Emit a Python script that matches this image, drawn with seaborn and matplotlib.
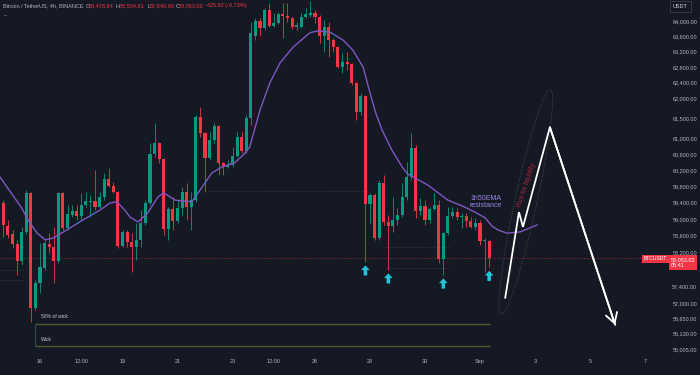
import numpy as np
import pandas as pd
import matplotlib
matplotlib.use('Agg')
import matplotlib.pyplot as plt
import matplotlib.dates as mdates
from matplotlib.patches import Ellipse
from matplotlib.path import Path
from matplotlib.markers import MarkerStyle
from matplotlib.transforms import IdentityTransform, blended_transform_factory
from matplotlib.ticker import FixedLocator, FixedFormatter, NullLocator
import seaborn as sns

BG = '#151924'
UP = '#089981'
DOWN = '#f23645'
TXT = '#b2b5be'

sns.set_theme(style='dark', rc={'axes.facecolor': BG, 'figure.facecolor': BG})
plt.rcParams['font.family'] = ['Liberation Sans', 'DejaVu Sans']

# 4h candles BTCUSDT, first bar 2024-08-14 16:00
first_bar = '2024-08-14 16:00'
opens = [59390, 58830, 58640, 58400, 57990, 58690, 59640, 56890, 57470, 57830,
         58400, 58330, 57990, 59640, 58790, 59100, 59200, 59080, 59340, 59420,
         59440, 59290, 59540, 59980, 59810, 59660, 58350, 58690, 58450, 58330,
         58500, 58910, 59390, 60600, 60870, 60470, 58760, 59250, 58950, 59270,
         59660, 59290, 59460, 61530, 61120, 60500, 60950, 61300, 60380, 60280,
         60330, 60550, 61020, 60670, 61500, 63610, 64000, 63820, 64290, 63870,
         63950, 64190, 64130, 64080, 63840, 63840, 64110, 64160, 64210, 64110,
         63610, 63840, 63500, 63320, 62800, 62930, 62880, 62390, 61650, 62060,
         59370, 59590, 58540, 59880, 58930, 58830, 58980, 59100, 59540, 60030,
         60750, 59200, 59320, 58980, 59250, 59340, 58040, 58660, 59080, 59170,
         59050, 59080, 58950, 58810, 58910, 58470, 58478.64]
highs = [59460, 58980, 58740, 58500, 58810, 59710, 59660, 57540, 58420, 58500,
         58660, 58810, 59660, 59660, 59340, 59340, 59340, 59640, 59660, 59590,
         60200, 59660, 60130, 60250, 59910, 59690, 58740, 58740, 58660, 58910,
         59220, 59460, 60870, 61370, 60900, 60500, 59290, 59540, 59460, 59780,
         59880, 59660, 61580, 61780, 61150, 61150, 61370, 61320, 60400, 60450,
         60770, 61150, 61150, 61580, 63970, 64080, 64080, 64340, 64480, 64210,
         64240, 64480, 64480, 64110, 63970, 64210, 64340, 64530, 64290, 64160,
         64030, 63970, 63560, 63350, 63160, 63190, 62910, 62420, 62140, 62090,
         59640, 59640, 59960, 60080, 59100, 59540, 59270, 59880, 60400, 61120,
         60820, 59510, 59460, 59290, 59640, 59460, 58690, 59290, 59290, 59270,
         59150, 59150, 59050, 59030, 58980, 58540, 58504.81]
lows = [58570, 58540, 58300, 57660, 57900, 58640, 56560, 56840, 57240, 57780,
        58180, 57470, 57950, 58740, 58740, 59050, 58980, 58980, 59290, 59050,
        59220, 59270, 59460, 59780, 59640, 58300, 58330, 58330, 57730, 58020,
        58330, 58860, 59340, 60520, 60380, 58620, 58500, 58740, 58910, 59100,
        58980, 58740, 59420, 61020, 59660, 60450, 60870, 60080, 60080, 60250,
        60280, 60520, 60620, 60620, 61320, 63500, 63610, 63760, 63840, 63840,
        63920, 63560, 63970, 63790, 63760, 63820, 64080, 64110, 63950, 63430,
        63190, 63060, 63190, 62780, 62650, 62730, 62340, 61450, 61580, 57970,
        58910, 58500, 58500, 58860, 57780, 58690, 58860, 59050, 59460, 59960,
        59030, 59100, 58860, 58910, 59220, 57950, 57660, 58620, 59030, 58980,
        58790, 58810, 58790, 58740, 58380, 57730, 57840.00]
closes = [58860, 58620, 58400, 57990, 58690, 59640, 56890, 57470, 57850, 58420,
          58330, 57990, 59640, 58790, 59120, 59200, 59080, 59340, 59440, 59440,
          59290, 59540, 59980, 59810, 59660, 58350, 58690, 58450, 58330, 58500,
          58910, 59390, 60600, 60870, 60470, 58760, 59250, 58950, 59270, 59660,
          59290, 59460, 61530, 61120, 60500, 60950, 61300, 60380, 60280, 60330,
          60550, 61020, 60670, 61500, 63690, 64000, 63820, 64290, 63870, 63950,
          64190, 64130, 64080, 63840, 63900, 64110, 64190, 64210, 64110, 63610,
          63840, 63500, 63320, 62800, 62930, 62880, 62390, 61650, 62060, 59370,
          59590, 58540, 59880, 58930, 58830, 58980, 59100, 59540, 60030, 60750,
          59200, 59320, 58980, 59250, 59340, 58040, 58660, 59080, 59170, 59050,
          59080, 58950, 58810, 58910, 58470, 58478.64, 58053.02]

# 1h 50 EMA as drawn (last part is the hand-drawn extension)
ema_times = ['2024-08-14 13:00', '2024-08-15 08:00', '2024-08-15 13:30', '2024-08-15 21:30',
             '2024-08-16 04:30', '2024-08-16 11:30', '2024-08-16 23:30', '2024-08-17 13:30',
             '2024-08-18 04:30', '2024-08-18 13:00', '2024-08-18 19:00', '2024-08-19 02:00',
             '2024-08-19 06:30', '2024-08-19 13:30', '2024-08-19 22:00', '2024-08-20 07:00',
             '2024-08-20 12:00', '2024-08-20 22:00', '2024-08-21 12:30', '2024-08-21 21:30',
             '2024-08-22 06:00', '2024-08-22 15:00', '2024-08-23 02:00', '2024-08-23 11:00',
             '2024-08-23 15:00', '2024-08-24 00:00', '2024-08-24 08:30', '2024-08-24 17:30',
             '2024-08-25 05:00', '2024-08-25 19:30', '2024-08-26 02:00', '2024-08-26 13:00',
             '2024-08-27 00:30', '2024-08-27 09:00', '2024-08-27 18:00', '2024-08-28 00:00',
             '2024-08-28 05:00', '2024-08-28 10:30', '2024-08-28 19:00', '2024-08-29 04:00',
             '2024-08-29 09:00', '2024-08-29 18:00', '2024-08-30 02:30', '2024-08-30 11:30',
             '2024-08-30 20:00', '2024-08-31 08:30', '2024-08-31 19:30', '2024-09-01 04:30',
             '2024-09-01 10:30', '2024-09-01 15:30', '2024-09-01 23:30', '2024-09-02 11:00',
             '2024-09-03 02:00']
ema_vals = [60030, 59270, 58980, 58660, 58500, 58540, 58740, 58980, 59220, 59390,
            59420, 59220, 59050, 58930, 59150, 59540, 59640, 59460, 59420, 59780,
            60130, 60280, 60380, 60620, 60770, 61700, 62390, 62910, 63320, 63690,
            63740, 63710, 63500, 63240, 62800, 62140, 61630, 61200, 60700, 60280,
            60100, 59960, 59830, 59640, 59460, 59320, 59170, 59030, 58830, 58740,
            58660, 58690, 58860]

# bounce markers under these candles
signal_bars = [79, 84, 96, 106]

# projected path
proj_times = ['2024-09-01 22:00', '2024-09-02 10:00', '2024-09-02 13:30',
              '2024-09-03 13:00', '2024-09-05 22:00']
proj_prices = [57120, 59170, 58810, 61270, 56490]

price_ticks = [64000, 63600, 63200, 62800, 62400, 62000, 61500, 61000, 60600,
               60200, 59800, 59400, 59000, 58600, 58200, 57400, 57000]
level_ticks = [56650, 56300, 55935]
level_labels = ['56,650.00', '56,130.00', '56,005.00']

date_ticks = ['2024-08-16', '2024-08-17 12:00', '2024-08-19', '2024-08-21', '2024-08-23',
              '2024-08-24 12:00', '2024-08-26', '2024-08-28', '2024-08-30', '2024-09-01',
              '2024-09-03', '2024-09-05', '2024-09-07']
date_labels = ['16', '12:00', '19', '21', '23', '12:00', '26', '28', '30', 'Sep', '3', '5', '7']

last_price = 58053.02
wick_level = 56005
half_wick_level = 56510


def dn(s):
    return mdates.date2num(pd.Timestamp(s).to_pydatetime())


times = mdates.date2num(pd.date_range(first_bar, periods=len(opens), freq='4h').to_pydatetime())
o = np.array(opens, float)
h = np.array(highs, float)
l = np.array(lows, float)
c = np.array(closes, float)
cols = np.where(c >= o, UP, DOWN)

fig = plt.figure(figsize=(7, 3.75), dpi=100)
ax = fig.add_axes([0, 23 / 375, 668 / 700, 352 / 375])
ax.set_facecolor(BG)
ax.set_yscale('log')
ax.set_xlim(dn('2024-08-14 13:05'), dn('2024-09-07 20:05'))
ax.set_ylim(55866, 64554)
ax.grid(False)
for s in ax.spines.values():
    s.set_visible(False)

# current price line
ax.axhline(last_price, color='#7a2a34', lw=0.6, ls=(0, (2, 2)), zorder=1)

# faint old levels
ax.hlines(59685, dn('2024-08-22 03:00'), dn('2024-08-27 22:00'), color='#3a3f4b', lw=0.5, ls=(0, (2, 2)), zorder=1)
ax.hlines([57780, 57540], dn('2024-08-14 13:05'), dn('2024-08-15 12:00'), color='#3a3f4b', lw=0.5, ls=(0, (2, 2)), zorder=1)
ax.hlines([58330, 57830], dn('2024-08-28 14:00'), dn('2024-08-30 22:00'), color='#3a3f4b', lw=0.5, ls=(0, (2, 2)), zorder=1)

# wick levels
x0, x1 = dn('2024-08-15 20:00'), dn('2024-09-01 08:45')
ax.hlines([half_wick_level, wick_level], x0, x1, color='#4e5a2c', lw=1.0, zorder=2)
ax.vlines(x0, wick_level, half_wick_level, color='#34494a', lw=0.8, zorder=2)
ax.text(dn('2024-08-16 01:00'), 56675, '50% of wick', fontsize=3.6, color='#c9ccd4', va='center', ha='left')
ax.text(dn('2024-08-16 01:00'), 56164, 'Wick', fontsize=3.6, color='#c9ccd4', va='center', ha='left')

# candles
ax.vlines(times, l, h, colors=cols, lw=0.6, zorder=3)
body_lo = np.minimum(o, c)
body_h = np.maximum(np.abs(c - o), 18)
ax.bar(times, body_h, bottom=body_lo, width=4 / 24 * 0.66, color=cols, edgecolor='none', zorder=4)

# EMA
ema_x = [dn(t) for t in ema_times]
sns.lineplot(x=ema_x, y=ema_vals, ax=ax, color='#7e57c2', lw=1.0, sort=False, zorder=5)
ax.set_xlabel('')
ax.set_ylabel('')

# bounce arrows
arrow_path = Path([(0, -0.25), (0.32, -0.6), (0.13, -0.6), (0.13, -1.0), (-0.13, -1.0),
                   (-0.13, -0.6), (-0.32, -0.6), (0, -0.25)],
                  [Path.MOVETO] + [Path.LINETO] * 6 + [Path.CLOSEPOLY])
ax.scatter(times[signal_bars], l[signal_bars], marker=MarkerStyle(arrow_path), s=380,
           color='#22c4d8', edgecolors='none', zorder=6)

# projection
px = [dn(t) for t in proj_times]
ax.plot(px, proj_prices, color='white', lw=1.3, zorder=7, solid_joinstyle='miter')
ax.annotate('', xy=(px[-1], proj_prices[-1]), xytext=(px[-2], proj_prices[-2]),
            arrowprops=dict(arrowstyle='->,head_length=0.6,head_width=0.35', color='white',
                            lw=1.3, shrinkA=0, shrinkB=0), zorder=7)

ax.text(dn('2024-09-01 05:00'), 59420, '1h50EMA\nresistance', fontsize=5, color='#9d84e8',
        ha='center', va='center', linespacing=1.0, zorder=8)
ax.text(dn('2024-09-02 17:00'), 59830, 'Run for liquidity', fontsize=4.8, color='#a3283b',
        rotation=72, ha='center', va='center', rotation_mode='anchor', zorder=8)

# ticks
ax.yaxis.tick_right()
ax.yaxis.set_major_locator(FixedLocator(price_ticks + level_ticks))
ax.yaxis.set_major_formatter(FixedFormatter([f'{v:,.2f}' for v in price_ticks] + level_labels))
ax.yaxis.set_minor_locator(NullLocator())
ax.tick_params(axis='y', length=0, pad=21, labelsize=4, labelcolor=TXT)
plt.setp(ax.yaxis.get_majorticklabels(), ha='right')
ax.set_xticks([dn(d) for d in date_ticks])
ax.set_xticklabels(date_labels)
ax.xaxis.set_minor_locator(NullLocator())
ax.tick_params(axis='x', length=0, pad=5, labelsize=4, labelcolor=TXT)

# ellipse around the liquidity run (drawn in pixels)
fig.canvas.draw()
cx, cy = ax.transData.transform((dn('2024-09-02 16:00'), 59420))
ax.add_patch(Ellipse((cx, cy), width=230, height=22, angle=77.7, transform=IdentityTransform(),
                     fill=False, edgecolor='#565b68', lw=0.6, ls=(0, (1, 2)), zorder=6))

# right side price tags
bt = blended_transform_factory(ax.transAxes, ax.transData)
ax.text(1.0 + 3 / 668, 57950, '58,053.02\n05:41', transform=bt, fontsize=4, color='white',
        ha='left', va='center', linespacing=1.25, clip_on=False,
        bbox=dict(boxstyle='square,pad=0.35', fc=DOWN, ec='none'))
ax.text(1.0 - 1 / 668, 58045, 'BTCUSDT', transform=bt, fontsize=3.6, color='white',
        ha='right', va='center', clip_on=False,
        bbox=dict(boxstyle='square,pad=0.3', fc=DOWN, ec='none'))

fig.text(673 / 700, 1 - 6.5 / 375, 'USDT', fontsize=4, color='#d1d4dc', ha='left', va='center',
         bbox=dict(boxstyle='square,pad=0.6', fc=BG, ec='#3a3e4a', lw=0.6))

# header
hy = 1 - 6 / 375
fig.text(2.7 / 700, hy, 'Bitcoin / TetherUS, 4h, BINANCE', fontsize=4, color=TXT, va='center')
for lx, lab, vx, val in [(86, 'O', 89, '58,478.64'), (116, 'H', 119.5, '58,504.81'),
                         (147, 'L', 150, '57,840.00'), (176, 'C', 179, '58,053.02')]:
    fig.text(lx / 700, hy, lab, fontsize=4, color=TXT, va='center')
    fig.text(vx / 700, hy, val, fontsize=4, color=DOWN, va='center')
fig.text(205 / 700, hy, '-425.62 (-0.73%)', fontsize=4, color=DOWN, va='center')
fig.text(3 / 700, 1 - 15 / 375, '...', fontsize=4, color=TXT, va='center')

fig.savefig('out.png', dpi=100, facecolor=BG)
